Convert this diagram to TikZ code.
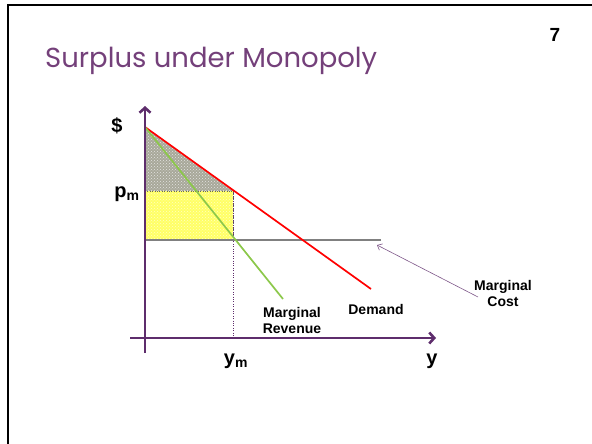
\documentclass[tikz,border=0pt]{standalone}
\usepackage{fontspec}
\setmainfont{Liberation Sans}
\newfontfamily\titlefont{Poppins}
\usetikzlibrary{positioning, arrows.meta, patterns}
\definecolor{axpurple}{HTML}{5E2D6C}
\definecolor{ttlpurple}{HTML}{74407A}
\definecolor{demred}{HTML}{FF0000}
\definecolor{mrgreen}{HTML}{8CC84B}
\definecolor{mcgray}{HTML}{808080}
\definecolor{surpyellow}{HTML}{FFFF66}
\definecolor{dwlgray}{HTML}{A8A89A}

\begin{document}
\begin{tikzpicture}[x=1pt, y=-1pt,
    lbl/.style={font=\bfseries\fontsize{14}{16}\selectfont, align=center, inner sep=0pt},
    big/.style={font=\bfseries\fontsize{20}{22}\selectfont, inner sep=0pt},
    axis/.style={axpurple, line width=2.6pt, -{Straight Barb[length=5pt, width=11pt]}},
    curve/.style={line width=1.7pt}]
  \useasboundingbox (0,0) rectangle (592,444);
  % slide frame
  \draw[line width=2.5pt] (8,444) -- (8,5) -- (592,5);
  \node[font=\titlefont\fontsize{27.5}{32}\selectfont, text=ttlpurple, anchor=base west, inner sep=0pt] (title) at (45,67) {Surplus under Monopoly};
  \node[font=\bfseries\fontsize{19}{21}\selectfont, inner sep=0pt] (pagenum) at (555,35) {7};

  % key points of the graph
  \coordinate (ybot) at (145,353);
  \coordinate (ytop) at (145,106);
  \coordinate (xl) at (130,338);
  \coordinate (xr) at (436,338);
  \coordinate (A) at (145,127);
  \coordinate (D) at (371,289);
  \coordinate (R) at (283,299);
  \coordinate (P) at (145,191);
  \coordinate (Q) at (233,191);
  \coordinate (C) at (145,240);
  \coordinate (M) at (233,240);
  \coordinate (Mx) at (233,338);
  \coordinate (Cr) at (381,240);
  \coordinate (mcfoot) at (478,297);
  \coordinate (mctip) at (377,245);

  % surplus areas
  \fill[dwlgray, postaction={pattern=crosshatch dots, pattern color=white!70!dwlgray}] (A) -- (P) -- (Q) -- cycle;
  \fill[surpyellow, postaction={pattern=crosshatch dots, pattern color=white!60!surpyellow}] (P) rectangle (M);
  \draw[dotted, thin, black!60] (P) -- (Q) -- (M) -- (C);
  \draw[dotted, thin, axpurple] (Q) -- (Mx);

  % curves
  \draw[curve, mcgray] (C) -- (Cr);
  \draw[curve, demred] (A) -- (D);
  \draw[curve, mrgreen] (A) -- (R);

  % axes
  \draw[axis] (ybot) -- (ytop);
  \draw[axis] (xl) -- (xr);

  % labels
  \node[big] (dollar) at (117,126) {\$};
  \node[big] (pm) at (127,194) {p\textsubscript{m}};
  \node[big] (ym) at (236,361) {y\textsubscript{m}};
  \node[big] (ylbl) at (432,361) {y};
  \node[lbl] (mrlbl) at (292,320) {Marginal\\Revenue};
  \node[lbl] (demlbl) at (376,309) {Demand};
  \node[lbl] (mclbl) at (503,293) {Marginal\\Cost};
  \draw[axpurple!80, line width=0.6pt, -{Straight Barb[length=4pt, width=7pt]}] (mcfoot) -- (mctip);
\end{tikzpicture}
\end{document}
